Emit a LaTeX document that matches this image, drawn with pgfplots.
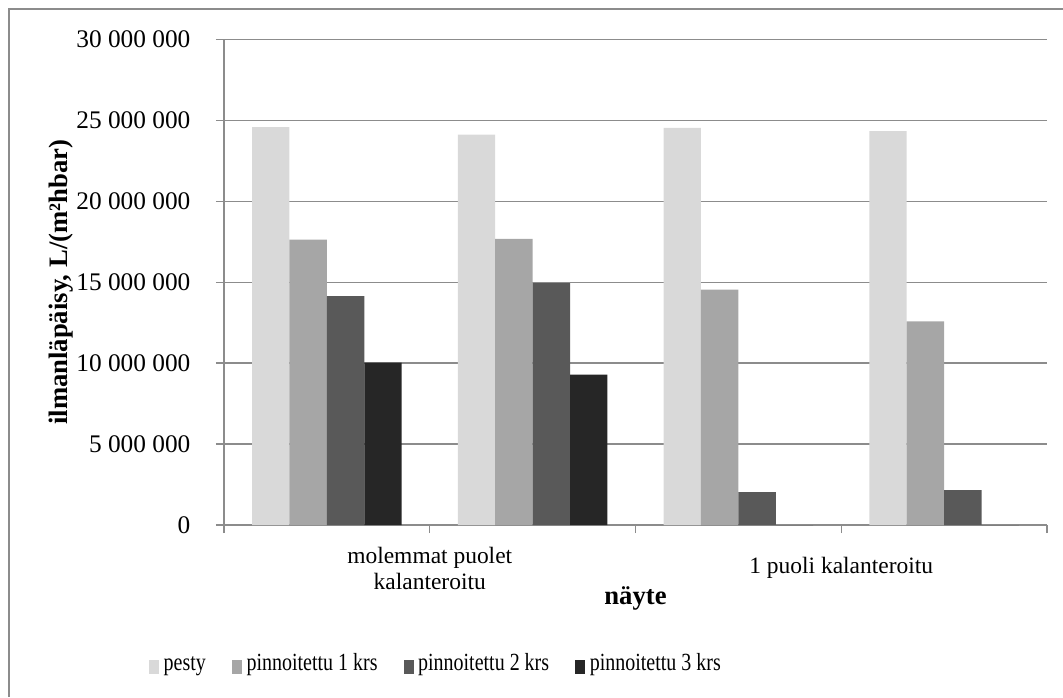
\documentclass[border=0pt]{standalone}
\usepackage{pgfplots}
\pgfplotsset{compat=1.18}
\usepackage{fontspec}
\setmainfont{Liberation Serif}
\newfontfamily\legfont[FakeStretch=0.81]{Liberation Serif}

\definecolor{cpesty}{HTML}{D9D9D9}
\definecolor{conea}{HTML}{A6A6A6}
\definecolor{ctwo}{HTML}{595959}
\definecolor{cthree}{HTML}{262626}
\definecolor{gridgray}{HTML}{8C8C8C}
\definecolor{framegray}{HTML}{8C8C8C}

\begin{document}
\begin{tikzpicture}
% page area and chart frame
\useasboundingbox (0pt,0pt) rectangle (797.25pt,-522.75pt);
\draw[framegray, line width=1.1pt] (6.75pt,-522.75pt) -- (6.75pt,-6.75pt) -- (797.25pt,-6.75pt);

\begin{axis}[
  at={(168pt,-393.75pt)}, anchor=south west,
  scale only axis, width=617.25pt, height=364.125pt,
  ybar=0pt, bar width=28.05pt,
  xmin=-0.5, xmax=3.5, ymin=0, ymax=30000000,
  axis x line=bottom, axis y line=left,
  axis line style={-, draw=gridgray, line width=1.1pt},
  tick align=outside, major tick length=6pt,
  tick style={draw=gridgray, line width=1.1pt},
  ytick={0,5000000,10000000,15000000,20000000,25000000,30000000},
  scaled y ticks=false,
  ymajorgrids, grid style={draw=gridgray, line width=1.1pt},
  yticklabel style={font={\fontsize{19}{22}\selectfont}, inner sep=0pt, anchor=east, xshift=-19pt,
    /pgf/number format/.cd, fixed, precision=0, 1000 sep={\ }, assume math mode=true},
  xtick={-0.5,0.5,1.5,2.5,3.5},
  xticklabels={,{molemmat puolet\\kalanteroitu},,{1 puoli kalanteroitu},},
  xticklabel style={font={\fontsize{17.6}{19.5}\selectfont}, align=center, anchor=center, yshift=-26.5pt},
  xlabel={\textbf{näyte}},
  xlabel style={font={\fontsize{20}{24}\selectfont}, at={(axis description cs:0.5,-0.152)}, anchor=center},
  ylabel={\textbf{ilmanläpäisy, L/(m²hbar)}},
  ylabel style={font={\fontsize{20}{24}\selectfont}, at={(axis description cs:-0.198,0.5)}, anchor=center},
  legend columns=4,
  legend image code/.code={\fill[#1] (0pt,-4.9pt) rectangle (7.5pt,4.9pt);},
  legend style={draw=none, fill=none, inner sep=0pt, outer sep=0pt,
    at={(axis description cs:-0.0911,-0.2925)}, anchor=west,
    font={\legfont\fontsize{18.5}{21}\selectfont},
    nodes={inner sep=0pt, text height=0.70em, text depth=0.22em},
    column sep=3.5pt, /tikz/every even column/.append style={column sep=19.5pt}},
]
\addplot[fill=cpesty, draw=none] coordinates {(0,24590000) (1,24130000) (2,24540000) (3,24340000)};
\addplot[fill=conea, draw=none] coordinates {(0,17640000) (1,17680000) (2,14550000) (3,12580000)};
\addplot[fill=ctwo, draw=none] coordinates {(0,14140000) (1,14940000) (2,2030000) (3,2160000)};
\addplot[fill=cthree, draw=none] coordinates {(0,10030000) (1,9290000) (2,0) (3,0)};
\legend{pesty, pinnoitettu 1 krs, pinnoitettu 2 krs, pinnoitettu 3 krs}
\end{axis}
\end{tikzpicture}
\end{document}
